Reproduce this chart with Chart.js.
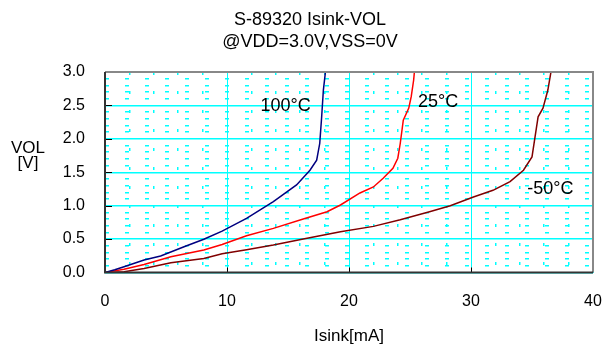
<!DOCTYPE html>
<html><head><meta charset="utf-8">
<style>html,body{margin:0;padding:0;background:#fff}canvas{display:block}</style>
<script src="https://cdn.jsdelivr.net/npm/chart.js@4/dist/chart.umd.min.js"></script>
</head><body>
<canvas id="c" width="607" height="347"></canvas>
<script>
// ---- data ----
const seriesNames = ['100°C', '25°C', '-50°C'];
const seriesColors = ['#000080', '#FF0000', '#800000'];

const isink100 = [0, 0.8, 1.56, 3.2, 4.56, 6.48, 8.1, 9.6, 11.6, 13.8, 15.7, 16.8, 17.35, 17.6, 17.76, 17.9, 18.1];
const vol100   = [0, 0.04, 0.087, 0.187, 0.247, 0.386, 0.497, 0.62, 0.81, 1.06, 1.31, 1.53, 1.68, 1.93, 2.33, 2.73, 3.05];

const isink25 = [0, 1.56, 3.2, 5.4, 8.1, 9.6, 11.6, 13.8, 16.25, 18.2, 19.3, 20.9, 22.0, 22.8, 23.6, 24.0, 24.2, 24.45, 24.9, 25.1, 25.3, 25.4];
const vol25   = [0, 0.048, 0.12, 0.237, 0.337, 0.42, 0.55, 0.66, 0.8, 0.91, 1.01, 1.19, 1.28, 1.41, 1.56, 1.71, 1.93, 2.28, 2.46, 2.63, 2.88, 3.08];

const isinkM50 = [0, 1.56, 3.2, 5.4, 8.1, 9.6, 11.6, 13.8, 16.25, 19.3, 22.0, 24.2, 26.6, 28.3, 30.2, 31.8, 33.2, 34.3, 35.0, 35.25, 35.5, 35.9, 36.3, 36.6];
const volM50   = [0, 0.012, 0.06, 0.147, 0.21, 0.28, 0.34, 0.41, 0.5, 0.61, 0.69, 0.79, 0.91, 1.0, 1.13, 1.23, 1.36, 1.53, 1.73, 2.03, 2.33, 2.46, 2.73, 3.05];

const xTickStep = 10, xMinorStep = 2, xMin = 0, xMax = 40;
const yTickStep = 0.5, yMinorStep = 0.1, yMin = 0, yMax = 3;

const titleLines = ['S-89320 Isink-VOL', '@VDD=3.0V,VSS=0V'];
const xTitle = 'Isink[mA]';
const yTitleLines = ['VOL', '[V]'];
// curve label anchors (data coordinates)
const labelPos = [[14.8, 2.41], [27.3, 2.47], [36.5, 1.18]];

// ---- build ----
const FONT = 'Liberation Sans, Arial, Helvetica, sans-serif';
function pts(xs, ys) { return xs.map((x, i) => ({x: x, y: ys[i]})); }
const seriesX = [isink100, isink25, isinkM50];
const seriesY = [vol100, vol25, volM50];

const datasets = seriesNames.map((n, k) => ({
  label: n,
  data: pts(seriesX[k], seriesY[k]),
  borderColor: seriesColors[k],
  borderWidth: 1.5,
  pointRadius: 0,
  fill: false,
  tension: 0
}));

const isMult = (v, s) => Math.abs(v / s - Math.round(v / s)) < 1e-6;

const frame = {
  id: 'frame',
  afterDatasetsDraw(chart) {
    const {ctx, chartArea: a, scales} = chart;
    ctx.save();
    ctx.strokeStyle = '#000';
    ctx.lineWidth = 1;
    for (let v = yMin + yTickStep; v < yMax; v += yTickStep) {
      const py = Math.round(scales.y.getPixelForValue(v)) + 0.5;
      ctx.beginPath(); ctx.moveTo(a.left, py); ctx.lineTo(a.left + 7, py); ctx.stroke();
    }
    for (let v = xMin + xTickStep; v < xMax; v += xTickStep) {
      const px = Math.round(scales.x.getPixelForValue(v)) + 0.5;
      ctx.beginPath(); ctx.moveTo(px, a.bottom); ctx.lineTo(px, a.bottom - 5); ctx.stroke();
    }
    ctx.lineWidth = 2;
    ctx.strokeStyle = '#888';
    ctx.beginPath(); ctx.moveTo(a.left, a.top); ctx.lineTo(a.right, a.top); ctx.lineTo(a.right, a.bottom); ctx.stroke();
    ctx.strokeStyle = '#333';
    ctx.beginPath(); ctx.moveTo(a.left, a.top); ctx.lineTo(a.left, a.bottom); ctx.lineTo(a.right, a.bottom); ctx.stroke();
    ctx.restore();
  },
  afterDraw(chart) {
    const {ctx, scales} = chart;
    ctx.save();
    ctx.fillStyle = '#000';
    ctx.textAlign = 'center';
    ctx.textBaseline = 'alphabetic';
    ctx.font = '18px ' + FONT;
    ctx.fillText(titleLines[0], 310, 25);
    ctx.fillText(titleLines[1], 310, 47);
    ctx.font = '17px ' + FONT;
    ctx.fillText(xTitle, (scales.x.left + scales.x.right) / 2, 341);
    ctx.fillText(yTitleLines[0], 28, 153);
    ctx.fillText(yTitleLines[1], 28, 168);
    ctx.font = '18px ' + FONT;
    labelPos.forEach((p, k) => {
      ctx.fillText(seriesNames[k], scales.x.getPixelForValue(p[0]), scales.y.getPixelForValue(p[1]));
    });
    ctx.restore();
  }
};

new Chart(document.getElementById('c'), {
  type: 'line',
  data: {datasets},
  options: {
    responsive: false,
    animation: false,
    events: [],
    layout: {padding: {top: 72, right: 14, left: 0, bottom: 0}},
    plugins: {legend: {display: false}, title: {display: false}, tooltip: {enabled: false}},
    scales: {
      x: {
        type: 'linear', position: 'bottom', min: xMin, max: xMax,
        ticks: {stepSize: xTickStep, color: '#000', font: {family: FONT, size: 16}, padding: 19, maxRotation: 0},
        grid: {color: '#00FFFF', lineWidth: 1, drawTicks: false},
        border: {display: false},
        afterFit: s => { s.height = 74.5; s.paddingLeft = 0; s.paddingRight = 0; }
      },
      x2: {
        type: 'linear', position: 'top', min: xMin, max: xMax,
        ticks: {display: false, stepSize: xMinorStep},
        grid: {color: c => (c.tick && isMult(c.tick.value, xTickStep)) ? 'rgba(0,0,0,0)' : '#00FFFF',
               lineWidth: 1.5, drawTicks: false, borderDash: [3, 16]},
        border: {display: false, dash: [3, 16]},
        afterFit: s => { s.height = 0; s.paddingLeft = 0; s.paddingRight = 0; }
      },
      y: {
        type: 'linear', position: 'left', min: yMin, max: yMax,
        ticks: {stepSize: yTickStep, color: '#000', font: {family: FONT, size: 16}, padding: 20,
                callback: v => Number(v).toFixed(1)},
        grid: {color: '#00FFFF', lineWidth: 1.5, drawTicks: false},
        border: {display: false},
        afterFit: s => { s.width = 105; s.paddingTop = 0; s.paddingBottom = 0; }
      },
      y2: {
        type: 'linear', position: 'right', min: yMin, max: yMax,
        ticks: {display: false, stepSize: yMinorStep},
        grid: {color: c => (c.tick && isMult(c.tick.value, yTickStep)) ? 'rgba(0,0,0,0)' : '#00FFFF',
               lineWidth: 1.5, drawTicks: false, borderDash: [4, 16]},
        border: {display: false, dash: [4, 16]},
        afterFit: s => { s.width = 0; s.paddingTop = 0; s.paddingBottom = 0; }
      }
    }
  },
  plugins: [frame]
});
</script>
</body></html>
